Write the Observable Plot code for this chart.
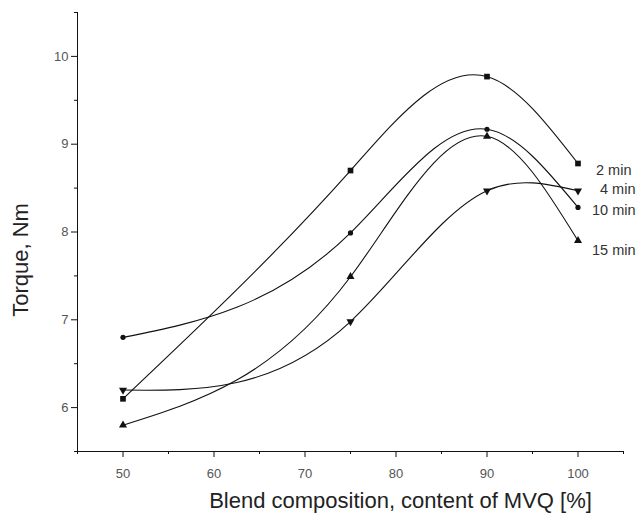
<!DOCTYPE html>
<html>
<head>
<meta charset="utf-8">
<script src="https://cdn.jsdelivr.net/npm/d3@7"></script>
<script src="https://cdn.jsdelivr.net/npm/@observablehq/plot@0.6"></script>
<style>
  html, body { margin: 0; padding: 0; background: #fff; }
  #chart svg { display: block; }
</style>
</head>
<body>
<div id="chart"></div>
<script>
// Blend composition (content of MVQ, %)
const composition = [50, 75, 90, 100];
// Mixing times (series)
const seriesNames = ["2 min", "4 min", "10 min", "15 min"];
// Torque values, Nm
const torque2min  = [6.1, 8.7, 9.77, 8.78];
const torque4min  = [6.2, 6.98, 8.47, 8.47];
const torque10min = [6.8, 7.99, 9.17, 8.28];
const torque15min = [5.8, 7.49, 9.09, 7.9];
const xMajorTicks = [50, 60, 70, 80, 90, 100];
const xMinorTicks = [45, 55, 65, 75, 85, 95, 105];
const yMajorTicks = [6, 7, 8, 9, 10];
const yMinorTicks = [5.5, 6.5, 7.5, 8.5, 9.5, 10.5];

const seriesValues = [torque2min, torque4min, torque10min, torque15min];
const symbols = ["square", "triangle", "circle", "triangle"];
const rotations = [0, 180, 0, 0];
const radii = [3.2, 3.0, 2.6, 3.0];
const labelDy = [7, -1, 3, 10];
const labelDx = [18, 22, 14, 14];

// Natural cubic spline as a function y(x) (like Origin's "Spline" connect)
class NaturalSplineX {
  constructor(context) { this._context = context; }
  areaStart() { this._line = 0; }
  areaEnd() { this._line = NaN; }
  lineStart() { this._x = []; this._y = []; }
  point(x, y) { this._x.push(+x); this._y.push(+y); }
  lineEnd() {
    const x = this._x, y = this._y, n = x.length, c = this._context;
    if (n) {
      this._line ? c.lineTo(x[0], y[0]) : c.moveTo(x[0], y[0]);
      if (n === 2) c.lineTo(x[1], y[1]);
      else if (n > 2) {
        const h = [], d = [];
        for (let i = 0; i < n - 1; ++i) { h[i] = x[i + 1] - x[i]; d[i] = (y[i + 1] - y[i]) / h[i]; }
        const M = new Array(n).fill(0);
        const k = n - 2, a = [], b = [], cc = [], r = [];
        for (let j = 0; j < k; ++j) {
          const i = j + 1;
          a[j] = h[i - 1]; b[j] = 2 * (h[i - 1] + h[i]); cc[j] = h[i]; r[j] = 6 * (d[i] - d[i - 1]);
        }
        for (let j = 1; j < k; ++j) { const w = a[j] / b[j - 1]; b[j] -= w * cc[j - 1]; r[j] -= w * r[j - 1]; }
        for (let j = k - 1; j >= 0; --j) M[j + 1] = (r[j] - (j < k - 1 ? cc[j] * M[j + 2] : 0)) / b[j];
        const m = [];
        for (let i = 0; i < n - 1; ++i) m[i] = d[i] - h[i] * (2 * M[i] + M[i + 1]) / 6;
        m[n - 1] = d[n - 2] + h[n - 2] * (M[n - 2] + 2 * M[n - 1]) / 6;
        for (let i = 0; i < n - 1; ++i) {
          const t = h[i] / 3;
          c.bezierCurveTo(x[i] + t, y[i] + m[i] * t, x[i + 1] - t, y[i + 1] - m[i + 1] * t, x[i + 1], y[i + 1]);
        }
      }
    }
    if (this._line || (this._line !== 0 && n === 1)) c.closePath();
    this._line = 1 - this._line;
    this._x = this._y = null;
  }
}
const naturalSplineX = (context) => new NaturalSplineX(context);

const rows = [];
seriesNames.forEach((s, i) => {
  composition.forEach((c, j) => rows.push({series: s, x: c, y: seriesValues[i][j], i}));
});
const lastRows = seriesNames.map((s, i) => ({series: s, x: composition[composition.length - 1], y: seriesValues[i][composition.length - 1], i}));

const font = "'Liberation Sans', Arial, Helvetica, sans-serif";
const ink = "#111";
const grey = "#555";

const marks = [
  Plot.ruleX([45], {stroke: ink, strokeWidth: 1}),
  Plot.ruleY([5.5], {stroke: ink, strokeWidth: 1}),
  Plot.axisX({ticks: xMajorTicks, tickSize: 6, tickPadding: 11, fontSize: 13, fill: grey, stroke: ink, label: null, tickFormat: d => String(d)}),
  Plot.axisX({ticks: xMinorTicks, tickSize: 3, text: null, label: null, stroke: ink}),
  Plot.axisY({ticks: yMajorTicks, tickSize: 6, tickPadding: 3, fontSize: 13, fill: grey, stroke: ink, label: null, tickFormat: d => String(d)}),
  Plot.axisY({ticks: yMinorTicks, tickSize: 3, text: null, label: null, stroke: ink}),
  ...seriesNames.map((s) =>
    Plot.line(rows.filter(r => r.series === s), {x: "x", y: "y", curve: naturalSplineX, stroke: ink, strokeWidth: 1.1})
  ),
  ...seriesNames.map((s, i) =>
    Plot.dot(rows.filter(r => r.series === s), {x: "x", y: "y", symbol: symbols[i], rotate: rotations[i], r: radii[i], fill: ink, stroke: "none"})
  ),
  ...seriesNames.map((s, i) =>
    Plot.text([lastRows[i]], {x: "x", y: "y", text: "series", dx: labelDx[i], dy: labelDy[i], textAnchor: "start", fontSize: 14.5, fill: "#333"})
  ),
  Plot.text(["Torque, Nm"], {frameAnchor: "left", dx: -57, dy: 28, rotate: -90, textAnchor: "middle", lineAnchor: "middle", text: d => d, fontSize: 22, fill: "#222"}),
  Plot.text(["Blend composition, content of MVQ [%]"], {frameAnchor: "bottom", dx: 50, dy: 49, textAnchor: "middle", lineAnchor: "middle", text: d => d, fontSize: 22, fill: "#222"})
];

const chart = Plot.plot({
  width: 638,
  height: 515,
  marginLeft: 77,
  marginRight: 15,
  marginTop: 12,
  marginBottom: 64,
  style: {fontFamily: font, background: "#fff", overflow: "visible"},
  x: {domain: [45, 105]},
  y: {domain: [5.5, 10.5]},
  marks
});
document.getElementById("chart").appendChild(chart);
</script>
</body>
</html>
